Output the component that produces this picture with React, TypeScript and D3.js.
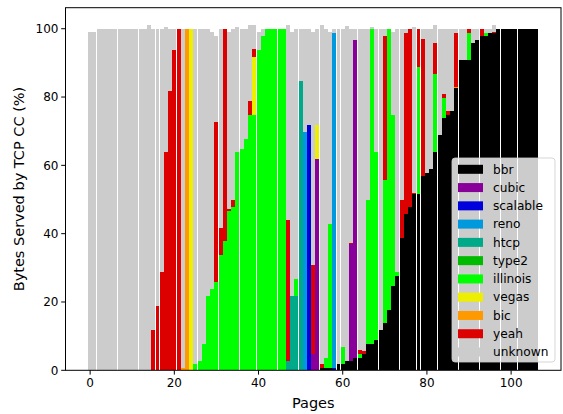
import React from "react";
import * as d3 from "d3";

// ---------- data ----------
const PAGE_COUNT = 107;
const seriesKeys = ["bbr", "cubic", "scalable", "reno", "htcp", "type2", "illinois", "vegas", "bic", "yeah", "unknown"];
const seriesColors = ["#000000", "#880099", "#0000dd", "#0099dd", "#00aa88", "#00bb00", "#00ff00", "#eeee00", "#ff9900", "#dd0000", "#cccccc"];

// [page, percent]
const bbr: [number, number][] = [
  [55, 0.7], [56, 0.7], [57, 0.7], [58, 0.3], [59, 1.8], [60, 1.8], [61, 2.7], [62, 2.7], [63, 3.7], [64, 3.7],
  [65, 4.9], [66, 7.8], [67, 7.8], [68, 9.0], [69, 11.8], [70, 13.9], [71, 17.6], [72, 24.7], [73, 27.6], [74, 38.7],
  [75, 45.7], [76, 47.9], [77, 51.6], [78, 51.6], [79, 56.9], [80, 57.8], [81, 59.0], [82, 63.9], [83, 69.0], [84, 73.8],
  [85, 74.8], [86, 76.0], [87, 82.7], [88, 90.8], [89, 90.8], [90, 90.8], [91, 95.8], [92, 96.7], [93, 97.9], [94, 97.9],
  [95, 98.7], [96, 98.7], [97, 100], [98, 100], [99, 100], [100, 100], [101, 100], [102, 100], [103, 100], [104, 100],
  [105, 100], [106, 100],
];
const cubic: [number, number][] = [[53, 4.8], [54, 61.9], [62, 34.3], [63, 93.0]];
const scalable: [number, number][] = [[52, 71.9], [58, 0.4]];
const reno: [number, number][] = [[51, 69.7], [58, 98.1]];
const htcp: [number, number][] = [[47, 2.6], [48, 21.7], [49, 21.7], [50, 84.8]];
const type2: [number, number][] = [];
const illinois: [number, number][] = [
  [25, 1.8], [26, 2.8], [27, 7.7], [28, 21.7], [29, 23.9], [30, 25.8], [31, 33.8], [32, 37.9], [33, 46.7], [34, 47.9],
  [35, 63.9], [36, 64.9], [37, 67.8], [38, 74.8], [39, 74.8], [40, 93.8], [41, 97.8], [42, 100], [43, 100], [44, 100],
  [45, 100], [46, 100], [49, 5.1], [56, 2.9], [57, 42.1], [60, 5.1], [64, 1.2], [66, 42.0], [67, 92.2], [68, 54.9],
  [70, 41.8], [71, 82.4], [72, 50.1], [73, 1.2], [78, 37.3], [82, 22.9], [84, 5.9], [90, 7.9], [94, 0.8],
];
const vegas: [number, number][] = [[24, 100], [39, 17.0], [54, 10.0]];
const bic: [number, number][] = [[22, 0.7], [23, 100], [87, 0.3]];
const yeah: [number, number][] = [
  [15, 11.8], [16, 18.8], [17, 28.8], [18, 63.9], [19, 81.7], [20, 93.7], [21, 100], [30, 46.9], [31, 7.8], [32, 62.1],
  [33, 0.4], [34, 1.9], [38, 4.1], [39, 2.3], [47, 41.4], [53, 26.1], [55, 1.1], [62, 0.3], [64, 1.0], [65, 0.8],
  [70, 42.1], [74, 11.1], [75, 53.1], [76, 52.1], [77, 0.3], [78, 11.1], [79, 40.2], [82, 9.0], [84, 1.2], [85, 1.2],
  [87, 15.8], [90, 1.3], [93, 2.1], [96, 0.4],
];
const unknown: [number, number][] = [
  [0, 99], [1, 99], [2, 100], [3, 100], [4, 100], [5, 100], [6, 100], [7, 100], [8, 100], [9, 100],
  [10, 100], [11, 100], [12, 100], [13, 100], [14, 101.1], [15, 88.2], [16, 81.2], [17, 71.2], [18, 36.7], [19, 18.3],
  [20, 6.3], [22, 99.3], [25, 98.2], [26, 97.2], [27, 92.3], [28, 78.3], [29, 75.1], [30, 25.1], [31, 58.4], [33, 51.9],
  [34, 50.2], [35, 36.7], [36, 35.1], [37, 32.2], [38, 22.2], [39, 7.0], [40, 5.2], [41, 2.2], [47, 57.1], [48, 77.3],
  [49, 73.2], [50, 15.2], [51, 30.3], [52, 28.1], [53, 68.1], [54, 28.1], [55, 99.3], [56, 96.4], [57, 56.2], [58, 1.2],
  [59, 98.2], [60, 93.1], [61, 98.2], [62, 62.7], [63, 3.3], [64, 94.1], [65, 94.3], [66, 50.2], [67, 0.6], [68, 36.1],
  [69, 88.2], [70, 2.2], [72, 24.2], [73, 71.2], [74, 50.2], [75, 1.2], [77, 48.7], [79, 2.9], [80, 42.2], [81, 41.0],
  [82, 5.3], [83, 31.0], [84, 19.1], [85, 24.0], [86, 24.0], [87, 1.2], [88, 9.2], [89, 9.2], [91, 4.2], [92, 3.3],
  [94, 1.3], [95, 1.3], [96, 2.0],
];
const seriesData = [bbr, cubic, scalable, reno, htcp, type2, illinois, vegas, bic, yeah, unknown];

const xTicks = [0, 20, 40, 60, 80, 100];
const yTicks = [0, 20, 40, 60, 80, 100];

// ---------- layout ----------
const W = 563;
const H = 414;
const left = 65.5;
const right = 561;
const top = 7.7;
const bottom = 370.3;
const FONT = "DejaVu Sans, sans-serif";

export default function App() {
  const table = d3.range(PAGE_COUNT).map((p) => {
    const row: Record<string, number> = { page: p };
    seriesKeys.forEach((k) => (row[k] = 0));
    return row;
  });
  seriesData.forEach((s, si) => s.forEach(([p, v]) => (table[p][seriesKeys[si]] = v)));

  const stacked = d3.stack<Record<string, number>>().keys(seriesKeys)(table);
  const maxTotal = d3.max(table, (r) => d3.sum(seriesKeys, (k) => r[k])) as number;

  const x = d3.scaleLinear().domain([-0.5 - PAGE_COUNT * 0.05, PAGE_COUNT - 0.5 + PAGE_COUNT * 0.05]).range([left, right]);
  const y = d3.scaleLinear().domain([0, maxTotal * 1.05]).range([bottom, top]);

  const isGap = (b: number) => {
    const f = b - Math.floor(b);
    return f > 0.38 && f < 0.62;
  };
  const leftEdge = (b: number) => (isGap(b) ? Math.floor(b) + 1 : Math.round(b));
  const rightEdge = (b: number) => (isGap(b) ? Math.floor(b) : Math.round(b));

  const color = d3.scaleOrdinal<string, string>().domain(seriesKeys).range(seriesColors);

  const legendX = 452;
  const legendY = 158;
  const rowH = 18.27;

  return (
    <svg width={W} height={H} style={{ position: "absolute", left: 0, top: 0, background: "#fff" }} fontFamily={FONT}>
      <rect x={0} y={0} width={W} height={H} fill="#fff" />
      <g shapeRendering="crispEdges">
        {stacked.map((layer) => (
          <g key={layer.key} fill={color(layer.key)}>
            {layer.map((d, i) => {
              if (d[1] - d[0] <= 0) return null;
              const L = leftEdge(x(i - 0.5));
              const R = rightEdge(x(i + 0.5));
              const y1 = Math.round(y(d[1]));
              const y0 = Math.round(y(d[0]));
              if (y0 - y1 <= 0) return null;
              return <rect key={i} x={L} y={y1} width={R - L} height={y0 - y1} />;
            })}
          </g>
        ))}
      </g>

      {/* spines */}
      <rect x={left} y={top} width={right - left} height={bottom - top} fill="none" stroke="#000" strokeWidth={1} />

      {/* x ticks */}
      {xTicks.map((t) => (
        <g key={"x" + t} transform={`translate(${x(t)},${bottom})`}>
          <line y1={0} y2={4.3} stroke="#000" strokeWidth={1} />
          <text y={17} textAnchor="middle" fontSize={12} fill="#000">
            {t}
          </text>
        </g>
      ))}
      {/* y ticks */}
      {yTicks.map((t) => (
        <g key={"y" + t} transform={`translate(${left},${y(t)})`}>
          <line x1={0} x2={-4.3} stroke="#000" strokeWidth={1} />
          <text x={-7} dy="0.35em" textAnchor="end" fontSize={12} fill="#000">
            {t}
          </text>
        </g>
      ))}

      <text x={(left + right) / 2} y={408} textAnchor="middle" fontSize={14.5} fill="#000">
        Pages
      </text>
      <text
        transform={`translate(24,${(top + bottom) / 2}) rotate(-90)`}
        textAnchor="middle"
        fontSize={14.5}
        fill="#000"
      >
        Bytes Served by TCP CC (%)
      </text>

      {/* legend */}
      <g>
        <rect
          x={legendX}
          y={legendY}
          width={103}
          height={204}
          rx={3}
          fill="#fff"
          fillOpacity={0.8}
          stroke="#cccccc"
          strokeOpacity={0.8}
        />
        {seriesKeys.map((k, i) => {
          const cy = legendY + 11.3 + i * rowH;
          return (
            <g key={k}>
              <rect x={legendX + 6} y={cy - 4.5} width={25} height={9} fill={color(k)} />
              <text x={legendX + 41} y={cy} dy="0.35em" fontSize={12.2} fill="#000">
                {k}
              </text>
            </g>
          );
        })}
      </g>
    </svg>
  );
}
